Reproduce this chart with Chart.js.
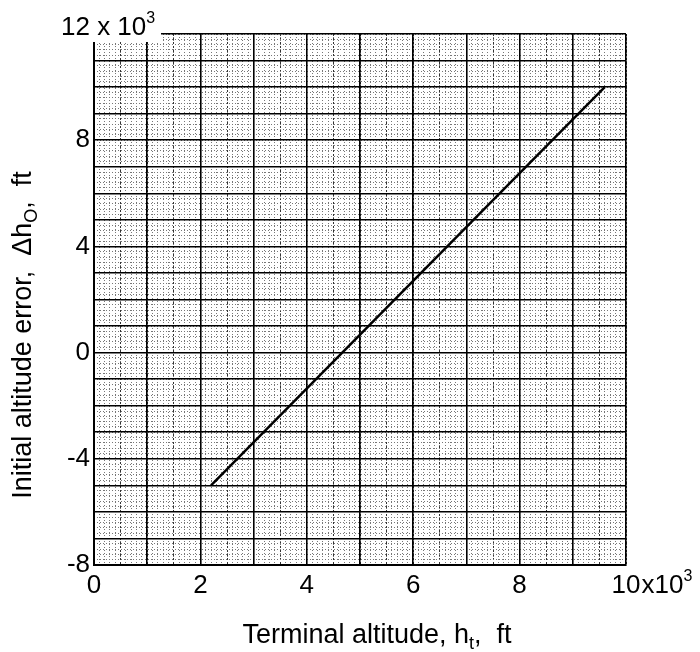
<!DOCTYPE html>
<html>
<head>
<meta charset="utf-8">
<script src="https://cdn.jsdelivr.net/npm/chart.js@4.4.0/dist/chart.umd.min.js"></script>
<style>
  body { margin: 0; background: #fff; }
</style>
</head>
<body>
<canvas id="altChart" width="700" height="652"></canvas>
<script>
// terminal altitude (x10^3 ft) vs initial altitude error (x10^3 ft)
var terminalAlt = [2.2, 9.6];
var altError = [-5, 10];
var xLabelTicks = [0, 2, 4, 6, 8, 10];
var yLabelTicks = [-8, -4, 0, 4, 8, 12];

var FONT = "'Liberation Sans', 'DejaVu Sans', sans-serif";
var TICK_SIZE = 26;

function isLabelTick(list, v) {
    for (var i = 0; i < list.length; i++) {
        if (Math.abs(list[i] - v) < 1e-6) return true;
    }
    return false;
}

// extra axes used only to draw the graph-paper rulings
function paperAxis(axis, min, max, step, color, width, dash, z) {
    return {
        type: 'linear',
        axis: axis,
        position: axis == 'x' ? 'bottom' : 'left',
        min: min,
        max: max,
        ticks: { display: false, stepSize: step, autoSkip: false },
        grid: { color: color, lineWidth: width, drawTicks: false },
        border: { display: false, dash: dash },
        z: z
    };
}

// draws a string with one lowered (sub) or raised (super) part
function drawParts(ctx, parts, x, y) {
    var cx = x;
    parts.forEach(function(p) {
        ctx.font = p.size + 'px ' + FONT;
        ctx.fillText(p.text, cx, y + (p.dy || 0));
        cx += ctx.measureText(p.text).width;
    });
    return cx;
}
function partsWidth(ctx, parts) {
    var w = 0;
    parts.forEach(function(p) {
        ctx.font = p.size + 'px ' + FONT;
        w += ctx.measureText(p.text).width;
    });
    return w;
}

var xTitle = [
    { text: 'Terminal altitude, h', size: 27 },
    { text: 't', size: 18, dy: 6 },
    { text: ',  ft', size: 27 }
];
var yTitle = [
    { text: 'Initial altitude error,  \u0394h', size: 27 },
    { text: 'O', size: 18, dy: 6 },
    { text: ',  ft', size: 27 }
];

var paperText = {
    id: 'paperText',
    beforeDatasetsDraw: function(chart) {
        // the exponent label sits over the top-left corner of the paper
        var ctx = chart.ctx, a = chart.chartArea;
        ctx.save();
        ctx.fillStyle = '#fff';
        ctx.fillRect(55, 0, 106, a.top + 8);
        ctx.restore();
    },
    afterDraw: function(chart) {
        var ctx = chart.ctx, a = chart.chartArea;
        var xs = chart.scales.x, ys = chart.scales.y;
        ctx.save();
        ctx.fillStyle = '#000';
        ctx.textBaseline = 'alphabetic';
        ctx.textAlign = 'left';

        // top y label with multiplier
        var yTop = ys.getPixelForValue(yLabelTicks[yLabelTicks.length - 1]);
        var topParts = [
            { text: String(yLabelTicks[yLabelTicks.length - 1]) + ' x 10', size: TICK_SIZE },
            { text: '3', size: 16, dy: -12 }
        ];
        drawParts(ctx, topParts, 61, yTop + 1);

        // x multiplier after the last label
        ctx.font = TICK_SIZE + 'px ' + FONT;
        var lastX = xLabelTicks[xLabelTicks.length - 1];
        var lw = ctx.measureText(String(lastX)).width;
        var xr = xs.getPixelForValue(lastX) + lw / 2 + 1;
        drawParts(ctx, [
            { text: 'x10', size: TICK_SIZE },
            { text: '3', size: 16, dy: -12 }
        ], xr, 593);

        // axis titles
        var xw = partsWidth(ctx, xTitle);
        drawParts(ctx, xTitle, 377 - xw / 2, 643);

        var yw = partsWidth(ctx, yTitle);
        ctx.translate(31, 335);
        ctx.rotate(-Math.PI / 2);
        drawParts(ctx, yTitle, -yw / 2, 0);
        ctx.restore();
    }
};

var points = terminalAlt.map(function(x, i) {
    return { x: x, y: altError[i] };
});

new Chart(document.getElementById('altChart'), {
    type: 'scatter',
    data: {
        datasets: [{
            data: points,
            showLine: true,
            borderColor: '#000',
            borderWidth: 2.5,
            pointRadius: 0,
            xAxisID: 'x',
            yAxisID: 'y'
        }]
    },
    options: {
        responsive: false,
        animation: false,
        layout: { padding: { top: 34, right: 74, left: 0, bottom: 0 } },
        plugins: { legend: { display: false }, tooltip: { enabled: false } },
        scales: {
            xMinor: paperAxis('x', 0, 10, 0.1, '#777', 1, [1, 2], -3),
            xMid: paperAxis('x', 0, 10, 0.5, '#333', 1, [2, 2], -2),
            yMinor: paperAxis('y', -8, 12, 0.2, '#777', 1, [1, 2], -3),
            x: {
                type: 'linear',
                position: 'bottom',
                min: 0,
                max: 10,
                ticks: {
                    stepSize: 1,
                    autoSkip: false,
                    maxRotation: 0,
                    padding: 5,
                    color: '#000',
                    font: { family: FONT, size: TICK_SIZE },
                    callback: function(v) { return isLabelTick(xLabelTicks, v) ? String(v) : ''; }
                },
                grid: { color: '#000', lineWidth: 1.6, drawTicks: false },
                border: { display: true, color: '#000', width: 2 },
                afterFit: function(s) { s.height = 87; }
            },
            y: {
                type: 'linear',
                position: 'left',
                min: -8,
                max: 12,
                ticks: {
                    stepSize: 1,
                    autoSkip: false,
                    padding: 4,
                    color: '#000',
                    font: { family: FONT, size: TICK_SIZE },
                    callback: function(v) {
                        if (v == yLabelTicks[yLabelTicks.length - 1]) return '';
                        return isLabelTick(yLabelTicks, v) ? String(v) : '';
                    }
                },
                grid: { color: '#000', lineWidth: 1.6, drawTicks: false },
                border: { display: true, color: '#000', width: 2 },
                afterFit: function(s) { s.width = 94; }
            }
        }
    },
    plugins: [paperText]
});
</script>
</body>
</html>
